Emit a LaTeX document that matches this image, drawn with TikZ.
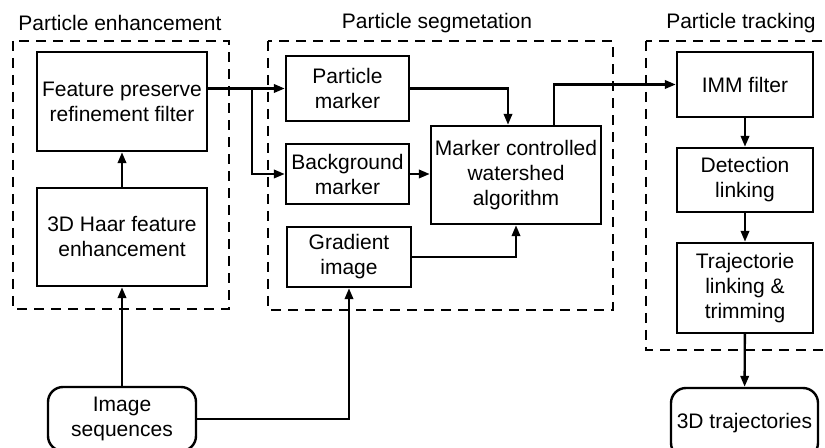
\documentclass[tikz,border=0pt]{standalone}
\usepackage{fontspec}
\setmainfont{Liberation Sans}
\usetikzlibrary{arrows.meta, positioning, calc}
\tikzset{
  blk/.style    = {rectangle, draw, line width=1.2pt, align=center, inner sep=1pt,
                   font=\fontsize{10.5}{12.5}\selectfont},
  endblk/.style = {blk, rounded corners=7.5pt},
  grp/.style    = {draw, line width=1pt, dash pattern=on 5pt off 3.5pt},
  ttl/.style    = {font=\fontsize{10.5}{12.5}\selectfont},
  flow/.style   = {-{Triangle[length=5.5pt, width=4.2pt]}, line width=1.2pt},
}

\begin{document}
\begin{tikzpicture}[x=0.5pt, y=-0.5pt]
        \clip (0,0) rectangle (825,448);
        % stage frames
        \draw[grp] (13,41) rectangle (229,309);
        \draw[grp] (268,41) rectangle (613,310);
        \draw[grp] (646,41) rectangle (850,350);
        \node[ttl] (ttlenh) at (120,23) {Particle enhancement};
        \node[ttl] (ttlseg) at (437,23) {Particle segmetation};
        \node[ttl] (ttltrk) at (741,23) {Particle tracking};

        % enhancement
        \node[blk, minimum width=85pt, minimum height=49.5pt] (feat) at (122,101.5) {Feature preserve\\refinement filter};
        \node[blk, minimum width=85pt, minimum height=49pt] (haar) at (122,237) {3D Haar feature\\enhancement};
        \node[endblk, minimum width=74pt, minimum height=32pt] (imgseq) at (122,419) {Image\\sequences};

        % segmentation
        \node[blk, minimum width=61.5pt, minimum height=32.5pt] (pmark) at (347.5,88.5) {Particle\\marker};
        \node[blk, minimum width=61.5pt, minimum height=30pt] (bmark) at (347.5,174) {Background\\marker};
        \node[blk, minimum width=62pt, minimum height=30pt] (grad) at (349,257) {Gradient\\image};
        \node[blk, minimum width=85pt, minimum height=49pt] (water) at (516,175) {Marker controlled\\watershed\\algorithm};

        % tracking
        \node[blk, minimum width=68pt, minimum height=32.5pt] (imm) at (745,84.5) {IMM filter};
        \node[blk, minimum width=68pt, minimum height=32pt] (det) at (745,180) {Detection\\linking};
        \node[blk, minimum width=68pt, minimum height=45pt] (traj) at (745,288) {Trajectorie\\linking \&\\trimming};
        \node[endblk, minimum width=73.5pt, minimum height=35pt] (traj3d) at (744.5,423) {3D trajectories};

        \coordinate (split) at (252,88.5);
        \coordinate (wout) at ([xshift=19pt]water.north);

        \draw[flow] (imgseq) -- (haar);
        \draw[flow] (haar) -- (feat);
        \draw[flow] (imgseq.east) -| (grad.south);
        \draw[flow] (feat.east |- pmark.west) -- (pmark.west);
        \draw[flow] (split) |- (bmark.west);
        \draw[flow] (pmark.east) -| ([xshift=-4pt]water.north);
        \draw[flow] (bmark.east) -- (bmark.east -| water.west);
        \draw[flow] (grad.east) -| (water.south);
        \draw[flow] (wout) |- (imm.west);
        \foreach \a/\b in {imm/det, det/traj, traj/traj3d}{\draw[flow] (\a) -- (\b);}
    \end{tikzpicture}
\end{document}
